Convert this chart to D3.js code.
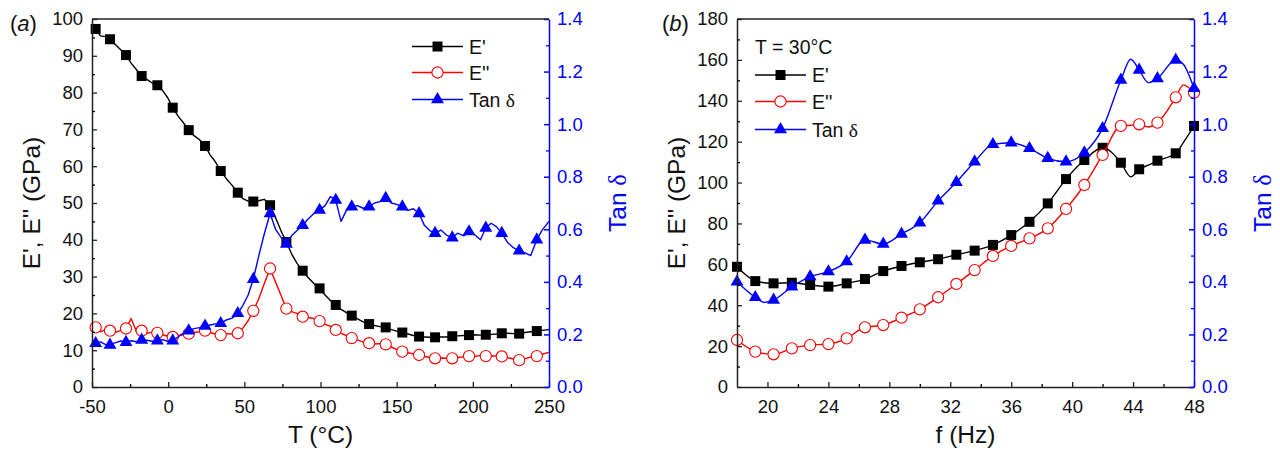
<!DOCTYPE html>
<html>
<head>
<meta charset="utf-8">
<script src="https://cdn.jsdelivr.net/npm/d3@7"></script>
<style>
  html, body { margin: 0; padding: 0; background: #fff; }
  svg { display: block; }
  text { font-family: 'Liberation Sans', Arial, Helvetica, sans-serif; }
</style>
</head>
<body>
<svg id="chart" width="1280" height="453"></svg>
<script>
// ---------- Panel (a): temperature sweep ----------
const tempA = [-50, -47.6, -44.5, -41.3, -38.2, -35, -31, -27.7, -24.3, -20.8, -17.4, -14, -10.5, -7.1, -3.7, -0.3, 3.0, 6.5, 10, 13.5, 17, 20.6, 24.2, 27.6, 31, 34.5, 38.2, 42, 45.7, 49, 52.5, 55.9, 59.5, 63, 66.9, 70.5, 74, 77.6, 81, 84.6, 88.3, 92, 95.7, 99.4, 103, 106.5, 110, 113.5, 117, 120.5, 124.3, 128, 131.9, 135.5, 139, 142.8, 146.5, 150, 153.7, 157.4, 161, 164.7, 168.2, 171.7, 175.2, 179, 182.7, 186.5, 190, 194, 197.5, 201, 205, 208.5, 212, 215.5, 219, 222.8, 226.6, 230.4, 234.3, 238, 242, 245.5, 250];
const storageA = [97.8, 97.3, 95.4, 95.2, 94.5, 93.2, 91.6, 90.2, 88.0, 86.2, 84.5, 83.6, 82.6, 82.0, 80.6, 78.6, 75.9, 73.6, 71.8, 69.8, 68.3, 67.2, 65.5, 63.0, 61.2, 58.7, 56.6, 54.8, 52.8, 51.2, 50.5, 50.4, 50.6, 51.0, 49.4, 46.0, 42.5, 39.4, 36.2, 33.6, 31.6, 29.7, 28.1, 26.8, 25.0, 23.5, 22.3, 21.1, 20.2, 19.4, 18.5, 17.7, 17.1, 16.7, 16.4, 16.2, 15.6, 15.2, 14.8, 14.4, 14.0, 13.7, 13.6, 13.5, 13.5, 13.6, 13.6, 13.8, 13.9, 14.0, 14.1, 14.2, 14.1, 14.2, 14.3, 14.4, 14.6, 14.6, 14.5, 14.5, 14.8, 15.0, 15.2, 15.4, 15.6];
const lossA = [15.0, 16.2, 15.0, 15.6, 15.3, 14.8, 15.4, 15.9, 18.6, 15.0, 15.3, 14.6, 14.9, 14.7, 14.2, 13.8, 13.6, 14.0, 14.2, 14.5, 14.8, 15.0, 15.3, 14.8, 14.4, 14.1, 14.5, 14.4, 14.6, 16.0, 18.0, 20.7, 24.0, 28.0, 32.2, 28.5, 25.0, 21.3, 20.5, 20.0, 19.1, 18.9, 18.6, 17.9, 17.0, 16.5, 15.5, 14.6, 14.0, 13.3, 12.8, 12.2, 11.9, 11.7, 11.8, 11.6, 10.8, 10.2, 9.6, 9.3, 9.0, 8.7, 8.3, 8.0, 7.8, 7.9, 7.8, 7.8, 8.0, 8.2, 8.4, 8.3, 8.6, 8.4, 8.5, 8.4, 8.3, 8.0, 7.6, 7.3, 7.7, 8.1, 8.4, 8.9, 9.4];
const tanA = [0.175, 0.166, 0.172, 0.162, 0.160, 0.168, 0.175, 0.170, 0.176, 0.172, 0.179, 0.178, 0.174, 0.176, 0.180, 0.174, 0.176, 0.190, 0.205, 0.214, 0.222, 0.226, 0.232, 0.236, 0.240, 0.242, 0.255, 0.262, 0.280, 0.31, 0.35, 0.41, 0.50, 0.58, 0.66, 0.60, 0.57, 0.544, 0.575, 0.595, 0.615, 0.64, 0.66, 0.673, 0.690, 0.724, 0.711, 0.630, 0.672, 0.686, 0.690, 0.680, 0.686, 0.700, 0.705, 0.718, 0.700, 0.695, 0.686, 0.672, 0.678, 0.660, 0.615, 0.595, 0.585, 0.597, 0.578, 0.568, 0.585, 0.575, 0.591, 0.580, 0.560, 0.605, 0.623, 0.610, 0.585, 0.550, 0.530, 0.518, 0.510, 0.500, 0.560, 0.597, 0.630];
const markerTempA = [-47.6, -38.2, -27.7, -17.4, -7.1, 3.0, 13.5, 24.2, 34.5, 45.7, 55.9, 66.9, 77.6, 88.3, 99.4, 110, 120.5, 131.9, 142.8, 153.7, 164.7, 175.2, 186.5, 197.5, 208.5, 219, 230.4, 242];

const xTicksA = [-50, 0, 50, 100, 150, 200, 250];
const xMinorA = [-25, 25, 75, 125, 175, 225];
const yTicksA = [0, 10, 20, 30, 40, 50, 60, 70, 80, 90, 100];
const yMinorA = [5, 15, 25, 35, 45, 55, 65, 75, 85, 95];

// ---------- Panel (b): frequency sweep at 30 °C ----------
const freqB = [18.0, 19.2, 19.8, 20.4, 21.6, 22.8, 24.0, 25.2, 26.4, 27.6, 28.8, 30.0, 31.2, 32.4, 33.6, 34.8, 36.0, 37.2, 38.4, 39.6, 40.8, 42.0, 43.2, 43.85, 44.4, 45.0, 45.6, 46.8, 47.3, 48.0];
const storageB = [58.8, 51.8, 51.0, 50.7, 51.0, 49.9, 49.1, 50.7, 52.8, 56.7, 59.2, 61.0, 62.5, 64.7, 66.7, 69.5, 74.3, 80.8, 89.8, 101.7, 111.0, 117.0, 109.7, 102.8, 106.5, 108.5, 110.7, 114.3, 119.5, 127.7];
const lossB = [23.0, 17.3, 16.3, 16.0, 18.9, 20.5, 21.0, 23.8, 29.2, 30.3, 33.9, 38.0, 43.9, 50.4, 57.2, 64.1, 69.0, 72.7, 77.6, 87.1, 98.8, 113.5, 127.7, 128.0, 128.5, 127.2, 129.3, 141.7, 147.8, 144.0];
const tanB = [0.400, 0.341, 0.322, 0.331, 0.381, 0.420, 0.439, 0.477, 0.559, 0.544, 0.582, 0.625, 0.708, 0.779, 0.857, 0.923, 0.929, 0.908, 0.870, 0.857, 0.891, 0.984, 1.168, 1.247, 1.206, 1.158, 1.174, 1.244, 1.228, 1.136];
const markerFreqB = [18.0, 19.2, 20.4, 21.6, 22.8, 24.0, 25.2, 26.4, 27.6, 28.8, 30.0, 31.2, 32.4, 33.6, 34.8, 36.0, 37.2, 38.4, 39.6, 40.8, 42.0, 43.2, 44.4, 45.6, 46.8, 48.0];

const xTicksB = [20, 24, 28, 32, 36, 40, 44, 48];
const xMinorB = [22, 26, 30, 34, 38, 42, 46];
const yTicksB = [0, 20, 40, 60, 80, 100, 120, 140, 160, 180];
const yMinorB = [10, 30, 50, 70, 90, 110, 130, 150, 170];

const tanTicks = [0, 0.2, 0.4, 0.6, 0.8, 1.0, 1.2, 1.4];
const tanMinor = [0.1, 0.3, 0.5, 0.7, 0.9, 1.1, 1.3];

const legendLabels = ["E'", "E''", "Tan "];
const BLACK = "#000", RED = "#ff0000", BLUE = "#0000ff";

const svg = d3.select("#chart");
const FS = 18.5;
const intFmt = d => String(d);   // plain hyphen-minus, as in the figure

function drawMarker(g, type, x, y) {
  if (type === "square") {
    g.append("path").attr("d", d3.symbol(d3.symbolSquare, 100)())
      .attr("transform", `translate(${x},${y})`).attr("fill", BLACK);
  } else if (type === "circle") {
    g.append("circle").attr("cx", x).attr("cy", y).attr("r", 5.6)
      .attr("fill", "#fff").attr("stroke", RED).attr("stroke-width", 1.1);
  } else {
    g.append("path").attr("d", d3.symbol(d3.symbolTriangle, 72)())
      .attr("transform", `translate(${x},${y})`).attr("fill", BLUE);
  }
}

function panel(opt) {
  const g = svg.append("g");
  const x = d3.scaleLinear().domain(opt.xDomain).range([opt.left, opt.right]);
  const yL = d3.scaleLinear().domain(opt.yDomain).range([opt.bottom, opt.top]);
  const yR = d3.scaleLinear().domain([0, 1.4]).range([opt.bottom, opt.top]);

  const series = [
    { vals: opt.storage, col: BLACK, scale: yL, type: "square" },
    { vals: opt.loss, col: RED, scale: yL, type: "circle" },
    { vals: opt.tan, col: BLUE, scale: yR, type: "triangle" }
  ];
  const markerSet = new Set(opt.markers.map(v => v.toFixed(2)));
  series.forEach(s => {
    const pts = opt.xs.map((xv, i) => [xv, s.vals[i]]);
    const line = d3.line().x(d => x(d[0])).y(d => s.scale(d[1])).curve(opt.curve);
    g.append("path").datum(pts).attr("d", line)
      .attr("fill", "none").attr("stroke", s.col).attr("stroke-width", 1.4)
      .attr("stroke-linejoin", "round");
    pts.filter(d => markerSet.has(d[0].toFixed(2)))
      .forEach(d => drawMarker(g, s.type, x(d[0]), s.scale(d[1])));
  });

  const axB = g.append("g").attr("transform", `translate(0,${opt.bottom})`)
    .call(d3.axisBottom(x).tickValues(opt.xTicks).tickSizeInner(-5).tickSizeOuter(0).tickPadding(13).tickFormat(intFmt));
  g.append("g").attr("transform", `translate(0,${opt.bottom})`)
    .call(d3.axisBottom(x).tickValues(opt.xMinor).tickSizeInner(-3).tickSizeOuter(0).tickFormat(""))
    .select(".domain").remove();
  const axL = g.append("g").attr("transform", `translate(${opt.left},0)`)
    .call(d3.axisLeft(yL).tickValues(opt.yTicks).tickSizeInner(-5).tickSizeOuter(0).tickPadding(9).tickFormat(intFmt));
  g.append("g").attr("transform", `translate(${opt.left},0)`)
    .call(d3.axisLeft(yL).tickValues(opt.yMinor).tickSizeInner(-3).tickSizeOuter(0).tickFormat(""))
    .select(".domain").remove();
  const axR = g.append("g").attr("transform", `translate(${opt.right},0)`)
    .call(d3.axisRight(yR).tickValues(tanTicks).tickSizeInner(-5).tickSizeOuter(0).tickPadding(8).tickFormat(d3.format(".1f")));
  const axRm = g.append("g").attr("transform", `translate(${opt.right},0)`)
    .call(d3.axisRight(yR).tickValues(tanMinor).tickSizeInner(-3).tickSizeOuter(0).tickFormat(""));
  axRm.select(".domain").remove();

  [axB, axL].forEach(a => {
    a.selectAll("text").attr("font-size", FS).attr("fill", "#111").style("font-family", "'Liberation Sans', Arial, sans-serif");
    a.selectAll("line, path").attr("stroke", "#222").attr("stroke-width", 1.5);
  });
  g.selectAll("g.tick line").attr("stroke-width", 1.3);
  axR.selectAll("text").attr("font-size", FS).attr("fill", BLUE).style("font-family", "'Liberation Sans', Arial, sans-serif");
  axR.selectAll("line, path").attr("stroke", BLUE).attr("stroke-width", 1.5);
  axRm.selectAll("line").attr("stroke", BLUE).attr("stroke-width", 1.3);
  g.append("line").attr("x1", opt.left).attr("x2", opt.right).attr("y1", opt.top).attr("y2", opt.top)
    .attr("stroke", "#222").attr("stroke-width", 1.5);

  g.append("text").attr("x", (opt.left + opt.right) / 2).attr("y", 443)
    .attr("text-anchor", "middle").attr("font-size", 24.5).attr("fill", "#111").text(opt.xTitle);
  g.append("text").attr("transform", `translate(${opt.left - 52},${(opt.top + opt.bottom) / 2}) rotate(-90)`)
    .attr("text-anchor", "middle").attr("font-size", 24.5).attr("fill", "#111").text("E', E'' (GPa)");
  const rt = g.append("text").attr("transform", `translate(${opt.right + 77},${(opt.top + opt.bottom) / 2}) rotate(-90)`)
    .attr("text-anchor", "middle").attr("font-size", 24.5).attr("fill", BLUE);
  rt.append("tspan").text("Tan ");
  rt.append("tspan").style("font-family", "'Liberation Serif', 'DejaVu Serif', serif").text("δ");

  const pl = g.append("text").attr("x", opt.labelX).attr("y", 31).attr("font-size", 22).attr("fill", "#111");
  pl.append("tspan").text("(");
  pl.append("tspan").attr("font-style", "italic").text(opt.label);
  pl.append("tspan").text(")");

  const lg = g.append("g");
  if (opt.legendTitle) {
    lg.append("text").attr("x", opt.legX0).attr("y", opt.legTitleY).attr("font-size", 19.5)
      .attr("fill", "#111").text(opt.legendTitle);
  }
  series.forEach((s, i) => {
    const yy = opt.legY[i];
    lg.append("line").attr("x1", opt.legX0).attr("x2", opt.legX0 + 51).attr("y1", yy).attr("y2", yy)
      .attr("stroke", s.col).attr("stroke-width", 1.4);
    drawMarker(lg, s.type, opt.legX0 + 25.5, yy);
    const t = lg.append("text").attr("x", opt.legX0 + 57).attr("y", yy + 7).attr("font-size", 19.5).attr("fill", "#111");
    t.append("tspan").text(legendLabels[i]);
    if (i === 2) t.append("tspan").style("font-family", "'Liberation Serif', 'DejaVu Serif', serif").text("δ");
  });
}

panel({
  xs: tempA, storage: storageA, loss: lossA, tan: tanA, markers: markerTempA,
  xDomain: [-50, 250], yDomain: [0, 100],
  left: 92, right: 549, top: 19, bottom: 387,
  xTicks: xTicksA, xMinor: xMinorA, yTicks: yTicksA, yMinor: yMinorA,
  curve: d3.curveLinear, xTitle: "T (°C)", label: "a", labelX: 10,
  legX0: 412, legY: [46.5, 72.5, 99.5]
});

panel({
  xs: freqB, storage: storageB, loss: lossB, tan: tanB, markers: markerFreqB,
  xDomain: [18, 48], yDomain: [0, 180],
  left: 737, right: 1194, top: 19, bottom: 387,
  xTicks: xTicksB, xMinor: xMinorB, yTicks: yTicksB, yMinor: yMinorB,
  curve: d3.curveMonotoneX, xTitle: "f (Hz)", label: "b", labelX: 662,
  legendTitle: "T = 30°C", legTitleY: 54,
  legX0: 755, legY: [75, 101.5, 129.5]
});
</script>
</body>
</html>
